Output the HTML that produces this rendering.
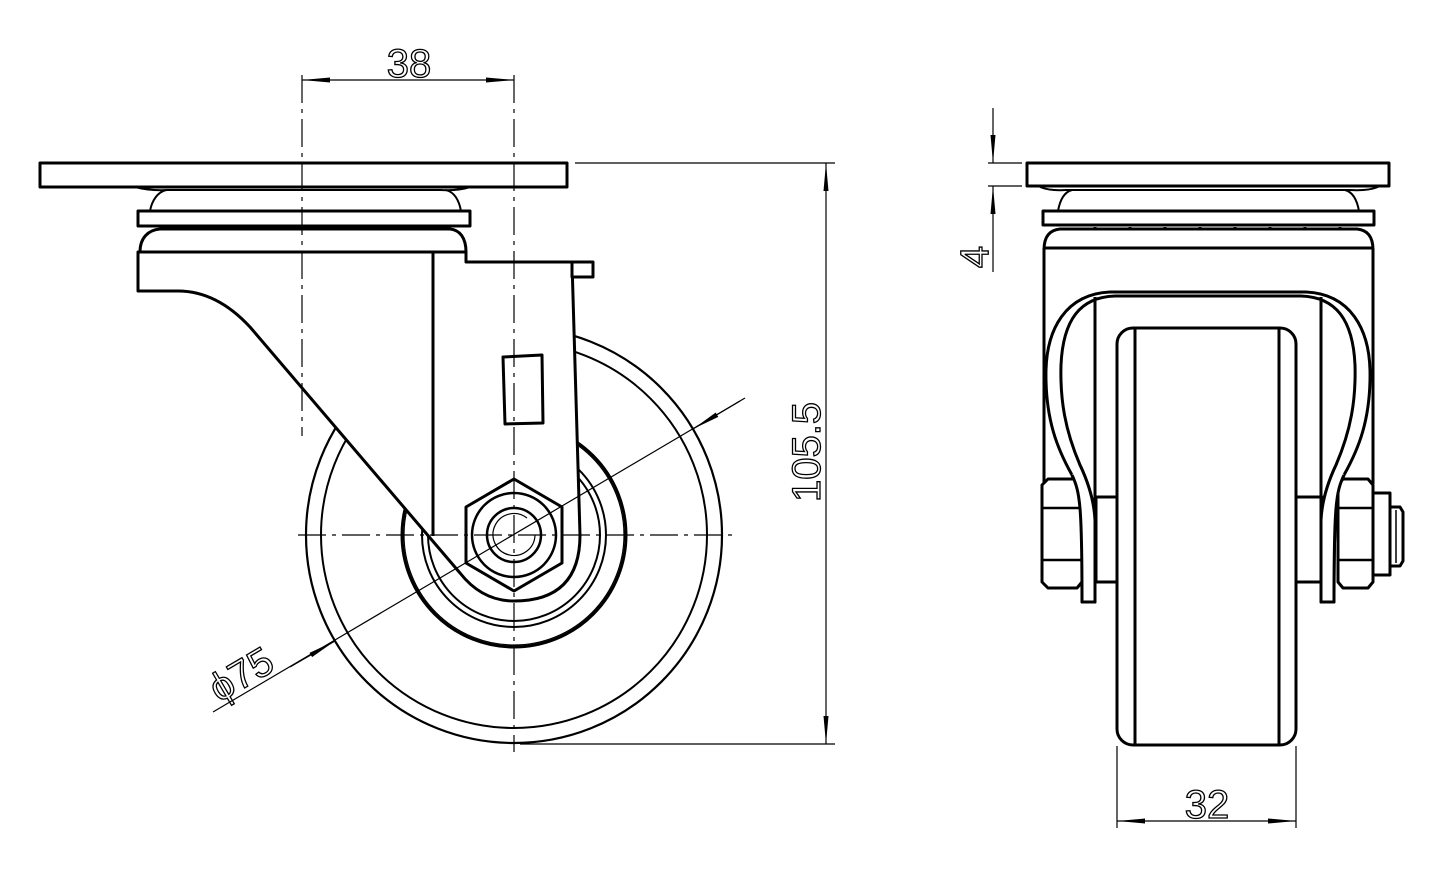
<!DOCTYPE html>
<html><head><meta charset="utf-8"><style>
html,body{margin:0;padding:0;background:#fff;}
svg{display:block;}
text{font-family:"Liberation Sans",sans-serif;fill:none;stroke:#000;stroke-width:1.3;}
</style></head><body>
<svg width="1450" height="882" viewBox="0 0 1450 882" xmlns="http://www.w3.org/2000/svg">
<defs>
<marker id="a" viewBox="0 0 28 8" refX="28" refY="4" markerWidth="28" markerHeight="8" markerUnits="userSpaceOnUse" orient="auto"><path d="M0,1.5 L28,4 L0,6.5 Z" fill="#000"/></marker>
</defs>
<g fill="none" stroke="#000" stroke-linejoin="round">
<!-- ===== LEFT VIEW ===== -->
<!-- wheel -->
<circle cx="514" cy="535" r="208" stroke-width="2.2"/>
<circle cx="514" cy="535" r="193" stroke-width="2"/>
<circle cx="514" cy="535" r="112" stroke-width="3"/>
<circle cx="514" cy="535" r="110" stroke-width="1.2"/>
<circle cx="514" cy="535" r="92" stroke-width="2"/>
<circle cx="514" cy="535" r="86" stroke-width="2"/>
<!-- bracket / fork -->
<path d="M138,252 L466,252 L466,262 L572,262 L580,535 Q580,601 514,601 Q482,601 460,573 L250,327 C225,300 200,291 178,291 L138,291 Z" fill="#fff" stroke-width="3"/>
<line x1="433" y1="252" x2="433" y2="536" stroke-width="3"/>
<rect x="572" y="262" width="21" height="15" fill="#fff" stroke-width="3"/>
<path d="M503,357 L542,355 L543,423 L505,424 Z" stroke-width="3"/>
<!-- plates -->
<rect x="40" y="163" width="527" height="24" stroke-width="3"/>
<path d="M135,187 Q150,191 168,190 L440,190 Q458,191 470,187" stroke-width="2"/>
<path d="M150,211 C152,200 158,192 166,190 M446,190 C454,192 459,200 461,211" stroke-width="2"/>
<rect x="138" y="211" width="332" height="15" stroke-width="3"/>
<path d="M140,252 C140,238 148,230 160,229 L450,229 C460,230 466,238 466,252" stroke-width="3"/>
<g stroke-width="3"><path d="M190,227v3M225,227v3M260,227v3M295,227v3M330,227v3M365,227v3M400,227v3M435,227v3"/></g>
<!-- nut -->
<polygon points="514,479 562,507 562,563 514,591 466,563 466,507" fill="#fff" stroke-width="3"/>
<circle cx="514" cy="535" r="42" stroke-width="2.5"/>
<circle cx="514" cy="535" r="27" stroke-width="2.5"/>
<path d="M535,535 A21,21 0 1 1 527,518" stroke-width="1.2"/>
<!-- centerlines -->
<g stroke-width="1.2" stroke-dasharray="28,6,4,6">
<line x1="302" y1="75" x2="302" y2="436"/>
<line x1="514" y1="75" x2="514" y2="752"/>
<line x1="298" y1="535" x2="735" y2="535"/>
</g>
<!-- dims -->
<g stroke-width="1.2">
<line x1="408" y1="80" x2="302" y2="80" marker-end="url(#a)"/>
<line x1="408" y1="80" x2="514" y2="80" marker-end="url(#a)"/>
<line x1="575" y1="163" x2="835" y2="163"/>
<line x1="520" y1="744" x2="835" y2="744"/>
<line x1="826" y1="450" x2="826" y2="163" marker-end="url(#a)"/>
<line x1="826" y1="450" x2="826" y2="744" marker-end="url(#a)"/>
<line x1="213" y1="712" x2="745" y2="398"/>
<line x1="290" y1="667" x2="335" y2="641" marker-end="url(#a)"/>
<line x1="740" y1="401" x2="693" y2="429" marker-end="url(#a)"/>
</g>
<!-- ===== RIGHT VIEW ===== -->
<rect x="1027" y="163" width="362" height="23" stroke-width="3"/>
<path d="M1040,187 Q1050,191 1066,190 L1350,190 Q1368,191 1378,187" stroke-width="2"/>
<path d="M1058,211 C1060,200 1064,192 1072,190 M1345,190 C1353,192 1357,200 1359,211" stroke-width="2"/>
<rect x="1043" y="211" width="331" height="14" stroke-width="3"/>
<path d="M1044,250 C1044,236 1050,230 1060,229 L1357,229 C1367,230 1373,236 1373,250" stroke-width="3"/>
<g stroke-width="3"><path d="M1095,227v3M1130,227v3M1165,227v3M1200,227v3M1235,227v3M1270,227v3M1305,227v3M1340,227v3"/></g>
<line x1="1044" y1="248" x2="1373" y2="248" stroke-width="3"/>
<line x1="1044" y1="248" x2="1044" y2="484" stroke-width="3"/>
<line x1="1373" y1="248" x2="1373" y2="484" stroke-width="3"/>
<!-- fork -->
<g id="fk" stroke-width="3">
<path d="M1208,292 L1110,292 C1065,294 1047,330 1046,370 C1045,420 1058,450 1072,475 C1080,492 1082,505 1082,602 L1095,602 L1095,520 C1094,500 1088,482 1080,465 C1065,430 1060,400 1061,365 C1063,320 1080,297 1115,296 L1208,296"/>
<line x1="1095" y1="297" x2="1095" y2="602"/>
</g>
<use href="#fk" transform="translate(2416,0) scale(-1,1)"/>
<!-- spacers -->
<rect x="1096" y="497" width="21" height="85" stroke-width="3"/>
<rect x="1296" y="497" width="26" height="85" stroke-width="3"/>
<!-- wheel -->
<rect x="1117" y="328" width="179" height="417" rx="16" fill="#fff" stroke-width="3"/>
<line x1="1135" y1="328" x2="1135" y2="745" stroke-width="3"/>
<line x1="1279" y1="328" x2="1279" y2="745" stroke-width="3"/>
<!-- nuts -->
<path d="M1048,479 L1077,479 L1082,485 L1082,582 L1077,588 L1048,588 L1042,582 L1042,485 Z" fill="#fff" stroke-width="3"/>
<path d="M1042,508 L1082,508 M1042,560 L1082,560" stroke-width="2.5"/>
<path d="M1343,479 L1368,479 L1373,485 L1373,582 L1368,588 L1343,588 L1338,582 L1338,485 Z" fill="#fff" stroke-width="3"/>
<path d="M1338,508 L1373,508 M1338,560 L1373,560" stroke-width="2.5"/>
<rect x="1373" y="493" width="17" height="82" stroke-width="3"/>
<path d="M1390,507 L1400,507 L1403,512 L1403,561 L1400,566 L1390,566" stroke-width="3"/>
<line x1="1396" y1="510" x2="1396" y2="563" stroke-width="1.5"/>
<!-- fork redraw over nuts -->
<path d="M1072,475 C1080,492 1082,505 1082,602 L1095,602 L1095,520 C1094,500 1088,482 1080,465" stroke-width="3" fill="#fff"/>
<path d="M1344,475 C1336,492 1334,505 1334,602 L1321,602 L1321,520 C1322,500 1328,482 1336,465" stroke-width="3" fill="#fff"/>
<!-- dims right -->
<g stroke-width="1.2">
<line x1="988" y1="163" x2="1022" y2="163"/>
<line x1="988" y1="186" x2="1022" y2="186"/>
<line x1="993" y1="108" x2="993" y2="163" marker-end="url(#a)"/>
<line x1="993" y1="272" x2="993" y2="186" marker-end="url(#a)"/>
<line x1="1117" y1="746" x2="1117" y2="828"/>
<line x1="1296" y1="746" x2="1296" y2="828"/>
<line x1="1206" y1="821" x2="1117" y2="821" marker-end="url(#a)"/>
<line x1="1206" y1="821" x2="1296" y2="821" marker-end="url(#a)"/>
</g>
</g>
<text x="409" y="77" font-size="40" text-anchor="middle">38</text>
<text x="0" y="0" font-size="40" text-anchor="middle" transform="translate(820,452) rotate(-90)">105.5</text>
<text x="0" y="0" font-size="40" text-anchor="middle" transform="translate(248,686) rotate(-30.5)">ϕ75</text>
<text x="0" y="0" font-size="40" text-anchor="middle" transform="translate(988,257) rotate(-90)">4</text>
<text x="1207" y="818" font-size="40" text-anchor="middle">32</text>
</svg>
</body></html>
